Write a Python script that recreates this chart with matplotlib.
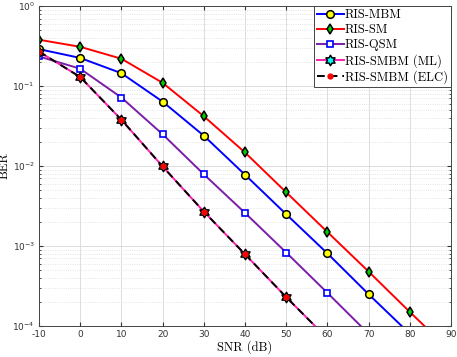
import matplotlib
matplotlib.use("Agg")
import matplotlib.pyplot as plt
from matplotlib.path import Path
import numpy as np

plt.rcParams["axes.unicode_minus"] = False

# SNR points (dB)
snr = [-10, 0, 10, 20, 30, 40, 50, 60, 70, 80, 90]

# BER values
ber_mbm = [0.29, 0.225, 0.145, 0.064, 0.024, 0.0078, 0.0025, 0.00081, 0.00025, 0.00008, 0.000025]
ber_sm = [0.38, 0.31, 0.22, 0.11, 0.042, 0.0148, 0.0047, 0.0015, 0.00048, 0.00015, 0.000048]
ber_qsm = [0.235, 0.165, 0.072, 0.025, 0.0079, 0.0026, 0.00083, 0.00026, 0.00008, 0.000025, 0.000008]
ber_smbm_ml = [0.27, 0.13, 0.038, 0.0099, 0.0027, 0.00079, 0.00023, 0.00007, 0.00002, 0.000006, 0.000002]
ber_smbm_elc = [0.27, 0.13, 0.038, 0.0099, 0.0027, 0.00079, 0.00023, 0.00007, 0.00002, 0.000006, 0.000002]

labels = ["RIS-MBM", "RIS-SM", "RIS-QSM", "RIS-SMBM (ML)", "RIS-SMBM (ELC)"]

# six-pointed star marker
ang = np.deg2rad(np.arange(0, 360, 30) + 90)
rad = np.where(np.arange(12) % 2 == 0, 1.0, 0.58)
hexa = Path(np.c_[rad * np.cos(ang), rad * np.sin(ang)].tolist() + [[0, 1]], closed=True)

serif = "cmr10"

fig = plt.figure(figsize=(4.57, 3.57), dpi=100)
ax = fig.add_axes([0.0853, 0.0868, 0.9015, 0.896])

ax.semilogy(snr, ber_mbm, color="blue", lw=1.4, marker="o", ms=5.5,
            mfc="yellow", mec="black", mew=1.1, label=labels[0])
ax.semilogy(snr, ber_sm, color="red", lw=1.4, marker="d", ms=5.5,
            mfc="#00cc00", mec="black", mew=1.1, label=labels[1])
ax.semilogy(snr, ber_qsm, color="#7a1ea8", lw=1.4, marker="s", ms=5,
            mfc="white", mec="blue", mew=1.2, label=labels[2])
ax.semilogy(snr, ber_smbm_ml, color="#ff1fb0", lw=1.4, marker=hexa, ms=7.5,
            mfc="cyan", mec="black", mew=1.1, label=labels[3])
ax.semilogy(snr, ber_smbm_elc, color="black", lw=1.4, ls=(0, (4, 2.5)), marker="o", ms=3.5,
            mfc="red", mec="red", label=labels[4])

ax.set_xlim(-10, 90)
ax.set_ylim(1e-4, 1)
ax.set_xticks(range(-10, 91, 10))
ax.set_yticks([1e-4, 1e-3, 1e-2, 1e-1, 1])

ax.grid(True, which="major", color="#dddddd", lw=0.7)
ax.grid(True, which="minor", color="#dddddd", lw=0.6, ls=":")
ax.tick_params(which="both", direction="in", top=True, right=True, labelsize=6.5,
               colors="#333333", length=3, pad=3)
ax.tick_params(which="minor", length=1.5)
for s in ax.spines.values():
    s.set_color("#444444")
    s.set_linewidth(0.7)

ax.set_xlabel("SNR (dB)", fontfamily=serif, fontsize=9, labelpad=1)
ax.set_ylabel("BER", fontfamily=serif, fontsize=9)
ax.yaxis.set_label_coords(-0.068, 0.5)

leg = ax.legend(loc="upper right", prop={"family": serif, "size": 9},
                handlelength=2.1, handletextpad=0.1, borderpad=0.25,
                labelspacing=0.22, borderaxespad=0.0, fancybox=False,
                framealpha=1, edgecolor="#444444")
leg.get_frame().set_linewidth(0.7)

fig.savefig("out.png", dpi=100)
